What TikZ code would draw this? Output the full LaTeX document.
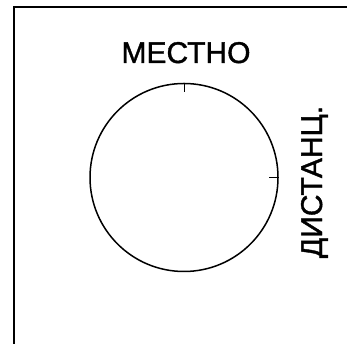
\documentclass[tikz,border=0pt]{standalone}
\usepackage{fontspec}
\setmainfont{Liberation Sans}
\newfontfamily\labelfont[FakeBold=1.3]{Liberation Sans}
\usetikzlibrary{positioning}

\begin{document}
\begin{tikzpicture}[x=1pt,y=1pt,line width=1.5pt,font=\labelfont\fontsize{30}{34}\selectfont]
\useasboundingbox (0,0) rectangle (347,344);
\draw (14,0)--(14,337)--(347,337);
\node(knob)[circle,draw,inner sep=0pt,minimum size=188pt] at (184,166.5){};
\draw[line width=1pt](knob.north)--++(0,-9);
\draw[line width=1pt](knob.east)--++(-10,0);
\node(local)[anchor=base,inner sep=0pt] at (186,281){МЕСТНО};
\node(remote)[anchor=base,rotate=90,inner sep=0pt] at (322,162){ДИСТАНЦ.};
\end{tikzpicture}
\end{document}
